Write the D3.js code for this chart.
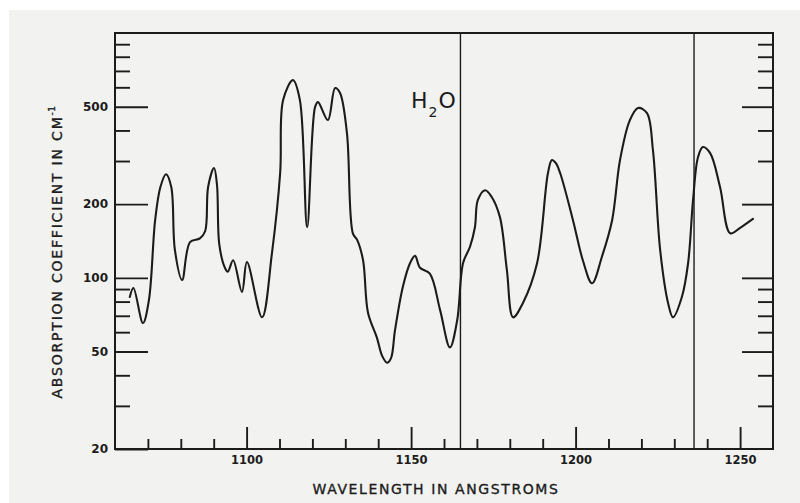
<!DOCTYPE html>
<html>
<head>
<meta charset="utf-8">
<script src="https://cdn.jsdelivr.net/npm/d3@7"></script>
<style>
  html, body { margin: 0; padding: 0; background: #fff; }
  svg { display: block; }
</style>
</head>
<body>
<div id="chart"></div>
<script>
// H2O absorption coefficient vs wavelength (log y)
const width = 800, height = 503;
const margin = {top: 33, right: 27, bottom: 54, left: 115};
const ink = "#1c1c1c";

// data
const wavelength = [1064.5, 1065.6, 1068.5, 1070.3, 1072.2, 1073.8, 1075.5, 1077.1, 1078.2, 1080.4,
  1082.8, 1085.8, 1087.4, 1088.3, 1090.1, 1091.0, 1091.7, 1093.4, 1094.3, 1095.9,
  1098.6, 1100.1, 1104.7, 1107.7, 1110.2, 1111.1, 1114.1, 1116.2, 1118.4, 1120.8,
  1121.7, 1124.7, 1126.9, 1128.4, 1130.5, 1132.3, 1133.6, 1135.4, 1136.9, 1139.6,
  1141.2, 1142.7, 1143.9, 1145.1, 1147.5, 1149.7, 1151.2, 1152.7, 1155.7, 1158.8,
  1161.8, 1164.0, 1165.8, 1167.9, 1169.4, 1170.3, 1172.5, 1174.5, 1177.0, 1179.1,
  1181.0, 1184.0, 1188.3, 1191.6, 1192.8, 1194.0, 1195.3, 1199.2, 1202.2, 1205.0,
  1208.0, 1211.1, 1213.5, 1216.5, 1219.0, 1221.7, 1223.5, 1225.7, 1228.1, 1229.6,
  1232.3, 1234.2, 1235.7, 1237.2, 1238.7, 1240.9, 1243.9, 1247.0, 1250.0, 1253.9];
const coefficient = [83.5, 90.9, 65.4, 81, 172, 235, 265, 235, 130, 98,
  140, 145, 155, 235, 281, 240, 137, 110, 106, 118,
  87.5, 116, 69, 126, 268, 532, 642, 532, 161, 498,
  522, 441, 596, 569, 390, 152, 143, 118, 72, 57,
  48, 45, 47, 61, 92, 115, 123, 110, 104, 74,
  52, 67, 115, 134, 161, 208, 228, 214, 177, 108,
  69, 79, 115, 268, 303, 294, 268, 172, 118, 95,
  122, 172, 303, 441, 494, 471, 333, 130, 79, 69,
  83.5, 115, 208, 311, 342, 323, 235, 152, 160, 174];
const markLines = [1165, 1236];
const xMajor = [1100, 1150, 1200, 1250];
const xMinor = [1070, 1080, 1090, 1110, 1120, 1130, 1140, 1160, 1170, 1180, 1190, 1210, 1220, 1230, 1240];
const yMajor = [20, 50, 100, 200, 500];
const yMinor = [30, 40, 60, 70, 80, 90, 300, 400, 600, 700, 800, 900];

const svg = d3.select("#chart").append("svg")
  .attr("width", width).attr("height", height)
  .attr("font-family", "'DejaVu Sans', sans-serif");

// scanned page tone
svg.append("rect").attr("x", 9).attr("y", 10).attr("width", width - 9).attr("height", height - 10)
  .attr("fill", "#f2f2f0");

const x = d3.scaleLinear().domain([1060, 1260]).range([margin.left, width - margin.right]);
const y = d3.scaleLog().domain([20, 1000]).range([height - margin.bottom, margin.top]);
const x0 = margin.left, x1 = width - margin.right, y0 = height - margin.bottom, y1 = margin.top;

function styleAxis(g) {
  g.select(".domain").remove();
  g.selectAll(".tick line").attr("stroke", ink).attr("stroke-width", 1.9);
  g.selectAll(".tick text").attr("fill", ink).attr("font-weight", "bold")
    .attr("font-family", "'DejaVu Sans', sans-serif");
}

// left axis
svg.append("g").attr("transform", `translate(${x0},0)`)
  .call(d3.axisLeft(y).tickValues(yMajor).tickSize(-33).tickPadding(7).tickFormat(d3.format("d")))
  .call(styleAxis)
  .call(g => g.selectAll(".tick text").attr("font-size", 12));
svg.append("g").attr("transform", `translate(${x0},0)`)
  .call(d3.axisLeft(y).tickValues(yMinor).tickSize(-15).tickFormat(""))
  .call(styleAxis);

// right axis (mirrored ticks)
svg.append("g").attr("transform", `translate(${x1},0)`)
  .call(d3.axisRight(y).tickValues(yMajor.slice(1)).tickSize(-31).tickFormat(""))
  .call(styleAxis);
svg.append("g").attr("transform", `translate(${x1},0)`)
  .call(d3.axisRight(y).tickValues(yMinor).tickSize(-15).tickFormat(""))
  .call(styleAxis);

// bottom axis
svg.append("g").attr("transform", `translate(0,${y0})`)
  .call(d3.axisBottom(x).tickValues(xMajor).tickSize(-22).tickPadding(7).tickFormat(d3.format("d")))
  .call(styleAxis)
  .call(g => g.selectAll(".tick text").attr("font-size", 11.5));
svg.append("g").attr("transform", `translate(0,${y0})`)
  .call(d3.axisBottom(x).tickValues(xMinor).tickSize(-10).tickFormat(""))
  .call(styleAxis);

// vertical marker lines
svg.append("g").selectAll("line").data(markLines).join("line")
  .attr("x1", d => x(d)).attr("x2", d => x(d))
  .attr("y1", y1).attr("y2", y0)
  .attr("stroke", ink).attr("stroke-width", 1.4);

// frame
svg.append("rect").attr("x", x0).attr("y", y1).attr("width", x1 - x0).attr("height", y0 - y1)
  .attr("fill", "none").attr("stroke", ink).attr("stroke-width", 2);

// curve
const pts = wavelength.map((w, i) => [w, coefficient[i]]);
svg.append("path").datum(pts)
  .attr("fill", "none").attr("stroke", ink).attr("stroke-width", 2.1)
  .attr("stroke-linejoin", "round").attr("stroke-linecap", "round")
  .attr("d", d3.line().x(d => x(d[0])).y(d => y(d[1])).curve(d3.curveCatmullRom.alpha(0.5)));

// H2O label
const h2o = svg.append("text").attr("x", 411).attr("y", 108)
  .attr("font-size", 22).attr("fill", ink);
h2o.append("tspan").text("H");
h2o.append("tspan").attr("font-size", 14).attr("dy", 9).attr("dx", 1).text("2");
h2o.append("tspan").attr("dy", -9).attr("dx", 1).text("O");

// axis titles
svg.append("text").attr("x", 436).attr("y", 494)
  .attr("text-anchor", "middle").attr("font-size", 14).attr("letter-spacing", 1.6)
  .attr("fill", ink).attr("stroke", ink).attr("stroke-width", 0.35)
  .text("WAVELENGTH IN ANGSTROMS");

const yt = svg.append("text")
  .attr("transform", "translate(62,252) rotate(-90)")
  .attr("text-anchor", "middle").attr("font-size", 14).attr("letter-spacing", 1.8)
  .attr("fill", ink).attr("stroke", ink).attr("stroke-width", 0.35);
yt.append("tspan").text("ABSORPTION COEFFICIENT IN CM");
yt.append("tspan").attr("font-size", 9).attr("dy", -7).attr("letter-spacing", 0.5).text("-1");
</script>
</body>
</html>
